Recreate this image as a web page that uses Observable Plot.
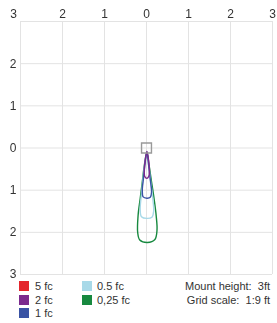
<!DOCTYPE html>
<html><head><meta charset="utf-8">
<script src="https://cdn.jsdelivr.net/npm/d3@7"></script>
<script src="https://cdn.jsdelivr.net/npm/@observablehq/plot@0.6"></script>
<style>
body{margin:0;background:#fff;font-family:"Liberation Sans",Arial,sans-serif;}
#wrap{position:relative;width:277px;height:323px;}
#chart svg{will-change:transform;}
#legend{position:absolute;left:0;top:280px;width:277px;height:43px;font-size:11px;color:#333;}
.sw{position:absolute;width:10px;height:10px;}
.lb{position:absolute;line-height:12px;}
.rt{position:absolute;right:7px;text-align:right;line-height:12px;white-space:pre;}
</style></head>
<body><div id="wrap"><div id="chart"></div><div id="legend"></div></div>
<script>
const xTicks = [-3,-2,-1,0,1,2,3];
const yTicks = [-3,-2,-1,0,1,2,3];
const levels = ["5 fc","2 fc","1 fc","0.5 fc","0,25 fc"];
const colors = ["#e4252c","#7b2a8e","#3a53a4","#a8d9e8","#17893f"];
const infoLabels = ["Mount height:  3ft","Grid scale:  1:9 ft"];
const fixture = [{x:0, y:0}];
const c5 = [];
const c2 = [[0.01,-0.08],[0.05,-0.3],[0.07,-0.55],[0.05,-0.68],[0.01,-0.72],[-0.04,-0.68],[-0.05,-0.5],[-0.03,-0.28]];
const c1 = [[0.01,-0.1],[0.05,-0.4],[0.09,-0.75],[0.12,-1.05],[0.09,-1.17],[0.01,-1.19],[-0.08,-1.16],[-0.1,-1.0],[-0.07,-0.7],[-0.04,-0.4]];
const c05 = [[0.01,-0.1],[0.05,-0.4],[0.1,-0.8],[0.15,-1.2],[0.17,-1.5],[0.13,-1.64],[0.01,-1.67],[-0.12,-1.63],[-0.15,-1.45],[-0.12,-1.1],[-0.08,-0.7],[-0.04,-0.35]];
const c025 = [[0.01,-0.1],[0.06,-0.4],[0.12,-0.8],[0.18,-1.2],[0.23,-1.6],[0.25,-1.95],[0.2,-2.17],[0.02,-2.24],[-0.16,-2.18],[-0.21,-2.0],[-0.2,-1.6],[-0.15,-1.2],[-0.1,-0.8],[-0.05,-0.4]];
const contours = [c5, c2, c1, c05, c025];

const rows = [];
for (let i = contours.length - 1; i >= 0; i--) {
  contours[i].forEach(([x, y]) => rows.push({level: levels[i], x, y}));
}
const fmt = d => String(Math.abs(d));
const plot = Plot.plot({
  width: 277, height: 280,
  marginTop: 21, marginBottom: 6, marginLeft: 20, marginRight: 5,
  style: {fontFamily: '"Liberation Sans",Arial,sans-serif', fontSize: "12px", color: "#333"},
  x: {domain: [-3, 3]},
  y: {domain: [-3, 3]},
  color: {domain: levels, range: colors},
  marks: [
    Plot.gridX(xTicks, {stroke: "#e3e3e3", strokeOpacity: 1, strokeWidth: 1}),
    Plot.gridY(yTicks, {stroke: "#e3e3e3", strokeOpacity: 1, strokeWidth: 1}),
    Plot.axisX(xTicks.slice(1), {anchor: "top", tickSize: 0, tickPadding: 4, tickFormat: fmt, label: null}),
    Plot.axisX(xTicks.slice(0,1), {anchor: "top", tickSize: 0, tickPadding: 4, dx: -7, tickFormat: fmt, label: null}),
    Plot.axisY(yTicks.slice(0,-1), {anchor: "left", tickSize: 0, tickPadding: 4, tickFormat: fmt, label: null}),
    Plot.line(rows, {x: "x", y: "y", z: "level", stroke: "level", strokeWidth: 1.4, curve: "catmull-rom-closed"}),
    Plot.dot(fixture, {x: "x", y: "y", symbol: "square", r: 5.6, stroke: "#999", strokeWidth: 1.4, fill: "none"})
  ]
});
document.getElementById("chart").appendChild(plot);

const leg = d3.select("#legend");
levels.forEach((l, i) => {
  const col = i < 3 ? 0 : 1, row = i < 3 ? i : i - 3;
  const sx = col === 0 ? 19 : 82, tx = col === 0 ? 35 : 97;
  const cy = 6 + row * 13.5;
  leg.append("div").attr("class","sw").style("left", sx+"px").style("top", (cy-5)+"px").style("background", colors[i]);
  leg.append("div").attr("class","lb").style("left", tx+"px").style("top", (cy-6)+"px").text(l);
});
infoLabels.forEach((t, i) => {
  leg.append("div").attr("class","rt").style("top", (i*13.5)+"px").text(t);
});
</script></body></html>
